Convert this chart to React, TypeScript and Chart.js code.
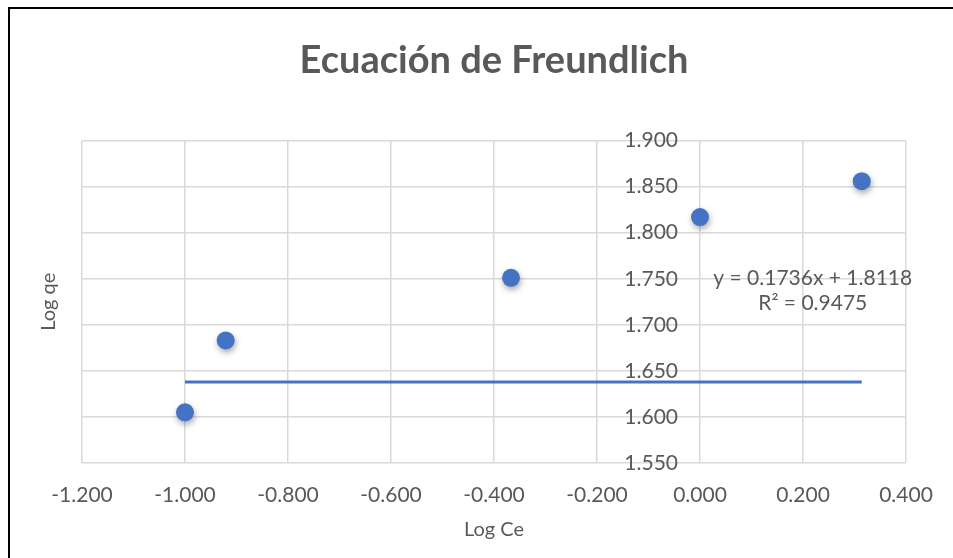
import React, { useEffect, useRef } from "react";
import { Chart, registerables } from "chart.js";

Chart.register(...registerables);

// Log Ce / Log qe pairs
const logCe = [-1.0, -0.921, -0.367, 0.0, 0.314];
const logQe = [1.605, 1.683, 1.751, 1.817, 1.856];

// trend line as drawn
const trendX = [-1.0, 0.314];
const trendY = [1.638, 1.638];

const xTicks = { min: -1.2, max: 0.4, step: 0.2 };
const yTicks = { min: 1.55, max: 1.9, step: 0.05 };

const equationLines = ["y = 0.1736x + 1.8118", "R² = 0.9475"];
const equationAnchor = { x: 0.219, y: 1.751 };

const FONT = "Lato, 'Open Sans', sans-serif";
const TEXT = "#595959";
const GRID = "#d9d9d9";
const BLUE = "#4472C4";

const fmt = (v: number) => (Math.abs(v) < 1e-9 ? 0 : v).toFixed(3);

// y tick labels sit beside the vertical axis at x = 0
const crossingLabels = {
  id: "crossingLabels",
  afterDraw(chart: any) {
    const { ctx, scales } = chart;
    const xs = scales.x;
    const ys = scales.y;
    const px = xs.getPixelForValue(0);
    ctx.save();
    ctx.font = `21px ${FONT}`;
    ctx.fillStyle = TEXT;
    ctx.textAlign = "right";
    ctx.textBaseline = "middle";
    ys.ticks.forEach((t: any) => {
      ctx.fillText(fmt(t.value), px - 22, ys.getPixelForValue(t.value));
    });
    // trend line equation
    ctx.textAlign = "center";
    const ex = xs.getPixelForValue(equationAnchor.x);
    const ey = ys.getPixelForValue(equationAnchor.y);
    equationLines.forEach((s, i) => ctx.fillText(s, ex, ey + i * 25));
    ctx.restore();
  },
};

// soft drop shadow under the markers
const markerShadow = {
  id: "markerShadow",
  beforeDatasetDraw(chart: any, args: any) {
    if (args.index !== 0) return;
    const ctx = chart.ctx;
    ctx.save();
    ctx.shadowColor = "rgba(0,0,0,0.35)";
    ctx.shadowBlur = 6;
    ctx.shadowOffsetX = 1;
    ctx.shadowOffsetY = 3;
  },
  afterDatasetDraw(chart: any, args: any) {
    if (args.index !== 0) return;
    chart.ctx.restore();
  },
};

export default function App() {
  const ref = useRef<HTMLCanvasElement>(null);

  useEffect(() => {
    const chart = new Chart(ref.current!, {
      type: "scatter",
      data: {
        datasets: [
          {
            label: "Log qe",
            data: logCe.map((x, i) => ({ x, y: logQe[i] })),
            backgroundColor: BLUE,
            borderColor: BLUE,
            pointRadius: 9,
            pointHoverRadius: 9,
            borderWidth: 0,
            order: 0,
          },
          {
            type: "line",
            label: "Tendencia",
            data: trendX.map((x, i) => ({ x, y: trendY[i] })),
            borderColor: BLUE,
            borderWidth: 3,
            pointRadius: 0,
            fill: false,
            order: 1,
          } as any,
        ],
      },
      options: {
        animation: false,
        responsive: false,
        events: [],
        layout: { padding: { left: 0, right: 47, top: 0, bottom: 0 } },
        plugins: {
          legend: { display: false },
          tooltip: { enabled: false },
          title: {
            display: true,
            text: "Ecuación de Freundlich",
            fullSize: false,
            color: TEXT,
            font: { family: FONT, size: 38, weight: "bold" },
            padding: { top: 38, bottom: 57 },
          },
        },
        scales: {
          x: {
            type: "linear",
            min: xTicks.min,
            max: xTicks.max,
            afterFit(s: any) {
              s.height = 95;
            },
            ticks: {
              stepSize: xTicks.step,
              color: TEXT,
              font: { family: FONT, size: 21 },
              padding: 20,
              maxRotation: 0,
              callback: (v: any) => fmt(Number(v)),
            },
            grid: { color: GRID, lineWidth: 1.5, drawTicks: false },
            border: { display: false },
            title: {
              display: true,
              text: "Log Ce",
              color: TEXT,
              font: { family: FONT, size: 20 },
              padding: { top: 0, bottom: 16 },
            },
          },
          y: {
            type: "linear",
            min: yTicks.min,
            max: yTicks.max,
            afterFit(s: any) {
              s.width = 82;
            },
            ticks: {
              stepSize: yTicks.step,
              display: false,
            },
            grid: { color: GRID, lineWidth: 1.5, drawTicks: false },
            border: { display: false },
            title: {
              display: true,
              text: "Log qe",
              color: TEXT,
              font: { family: FONT, size: 20 },
              padding: { top: 37, bottom: 0 },
            },
          },
        },
      },
      plugins: [markerShadow, crossingLabels],
    });
    return () => chart.destroy();
  }, []);

  return (
    <div
      style={{
        position: "fixed",
        left: 0,
        top: 0,
        width: 953,
        height: 558,
        overflow: "hidden",
        background: "#fff",
      }}
    >
      <canvas ref={ref} width={953} height={558} style={{ position: "absolute", left: 0, top: 0 }} />
      <div
        style={{
          position: "absolute",
          left: 8,
          top: 7,
          width: 980,
          height: 600,
          border: "2px solid #000",
          pointerEvents: "none",
        }}
      />
    </div>
  );
}
